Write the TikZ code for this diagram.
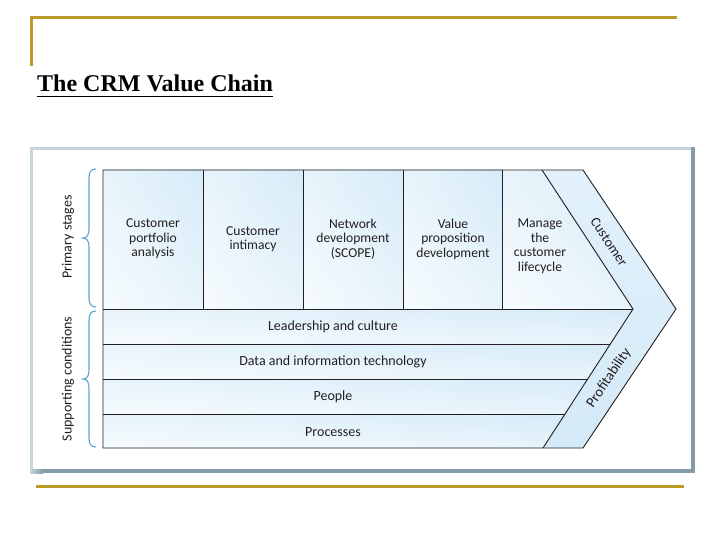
\documentclass[tikz,border=0pt]{standalone}
\usepackage{fontspec}
\usetikzlibrary{shadings}
\setmainfont{Carlito}
\newfontfamily\titlefont{Liberation Serif}
\definecolor{gold}{RGB}{189,153,40}
\definecolor{framelt}{RGB}{198,213,221}
\definecolor{framedk}{RGB}{132,155,168}
\definecolor{cellA}{RGB}{246,251,254}
\definecolor{cellB}{RGB}{214,235,248}
\definecolor{cellM}{RGB}{232,244,251}
\definecolor{bandA}{RGB}{226,241,251}
\definecolor{bandB}{RGB}{212,233,247}
\definecolor{bracec}{RGB}{84,168,212}
\definecolor{ink}{RGB}{35,31,32}
\begin{document}
\begin{tikzpicture}[x=1pt,y=-1pt,
  goldline/.style={draw=gold,line width=3pt},
  cellshade/.style={upper left=cellM,upper right=cellB,lower left=cellA,lower right=cellM},
  outline/.style={draw=ink,line width=0.9pt,line join=miter},
  celltext/.style={font=\fontsize{13.6}{14.5}\selectfont,text=ink,align=center,inner sep=0pt},
  bandtext/.style={font=\fontsize{14}{16}\selectfont,text=ink,inner sep=0pt},
  sidetext/.style={font=\fontsize{14}{16}\selectfont,text=ink,inner sep=0pt,rotate=90},
  bracepath/.style={draw=bracec,line width=1.1pt}]
\useasboundingbox (0,0) rectangle (720,540);
% gold rules
\draw[goldline] (31.5,66) -- (31.5,18) -- (677,18);
\draw[goldline] (36,486) -- (684,486);
% title
\node[anchor=base west,inner sep=0pt,font=\titlefont\bfseries\fontsize{24}{28}\selectfont] (title) at (37,92) {The CRM Value Chain};
\draw[line width=1.8pt] ([yshift=-4.5pt]title.base west) -- ([yshift=-4.5pt]title.base east);
% picture frame
\fill[white] (30,147) rectangle (695,473);
\fill[framelt] (30,147) rectangle (692,150);
\fill[framelt] (30,147) rectangle (33,469);
\fill[framedk] (691,147) rectangle (695,473);
\fill[framedk] (42,469) rectangle (695,473);
\shade[left color=framelt,right color=framedk] (30,469) rectangle (43,473);
% chevron band (Customer / Profitability)
\shade[top color=bandA,bottom color=bandB] (542,170) -- (583,170) -- (676,309) -- (583,448) -- (543,448) -- (633,309) -- cycle;
% primary cells
\shade[cellshade] (103,170) rectangle (203,309);
\shade[cellshade] (203,170) rectangle (303,309);
\shade[cellshade] (303,170) rectangle (403,309);
\shade[cellshade] (403,170) rectangle (502,309);
\shade[cellshade] (502,170) -- (542,170) -- (633,309) -- (502,309) -- cycle;
% supporting bands
\shade[cellshade] (103,309) -- (633,309) -- (610.3,344) -- (103,344) -- cycle;
\shade[cellshade] (103,344) -- (610.3,344) -- (587.7,379) -- (103,379) -- cycle;
\shade[cellshade] (103,379) -- (587.7,379) -- (565,414) -- (103,414) -- cycle;
\shade[cellshade] (103,414) -- (565,414) -- (543,448) -- (103,448) -- cycle;
% outlines
\draw[outline] (542,170) -- (583,170) -- (676,309) -- (583,448) -- (543,448);
\draw[outline] (103,170) -- (542,170) -- (633,309) -- (543,448) -- (103,448) -- cycle;
\draw[outline] (203,170) -- (203,309);
\draw[outline] (303,170) -- (303,309);
\draw[outline] (403,170) -- (403,309);
\draw[outline] (502,170) -- (502,309);
\draw[outline] (103,309) -- (633,309);
\draw[outline] (103,344) -- (610.3,344);
\draw[outline] (103,379) -- (587.7,379);
\draw[outline] (103,414) -- (565,414);
% cell texts
\node[celltext] (c1) at (153,239) {Customer\\portfolio\\analysis};
\node[celltext] (c2) at (253,239) {Customer\\intimacy};
\node[celltext] (c3) at (353,239) {Network\\development\\(SCOPE)};
\node[celltext] (c4) at (453,239) {Value\\proposition\\development};
\node[celltext] (c5) at (540,246) {Manage\\the\\customer\\lifecycle};
\node[bandtext] (b1) at (333,327) {Leadership and culture};
\node[bandtext] (b2) at (333,362) {Data and information technology};
\node[bandtext] (b3) at (333,397) {People};
\node[bandtext] (b4) at (333,432) {Processes};
\node[bandtext,rotate=-56] (cust) at (609,242) {Customer};
\node[bandtext,rotate=56,font=\fontsize{14.5}{16}\selectfont] (prof) at (609,378) {Profitability};
% side labels and braces
\node[sidetext] (ps) at (68,237) {Primary stages};
\node[sidetext] (sc) at (68,379) {Supporting conditions};
\draw[bracepath] (96,169) .. controls (91,169) and (89,172) .. (89,178) -- (89,229) .. controls (89,235) and (87,238) .. (83,238) .. controls (87,238) and (89,241) .. (89,247) -- (89,298) .. controls (89,304) and (91,307) .. (96,307);
\draw[bracepath] (96,311) .. controls (91,311) and (89,314) .. (89,320) -- (89,370) .. controls (89,376) and (87,379) .. (83,379) .. controls (87,379) and (89,382) .. (89,388) -- (89,438) .. controls (89,444) and (91,447) .. (96,447);
\end{tikzpicture}
\end{document}
